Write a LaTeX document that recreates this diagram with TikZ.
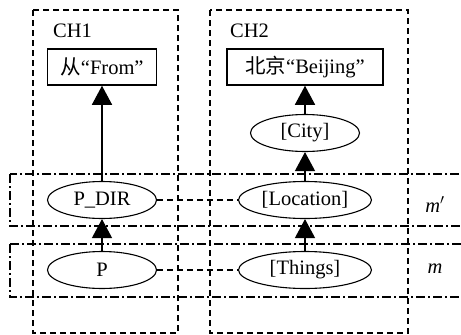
\documentclass[tikz,border=0pt]{standalone}
\usepackage{fontspec}
\setmainfont{Liberation Serif}
\newfontfamily\cjk{Noto Sans CJK SC}
\usetikzlibrary{shapes.geometric,arrows.meta}
\begin{document}
\begin{tikzpicture}[x=1pt,y=-1pt,
  every node/.style={font=\fontsize{20.5}{24}\selectfont},
  chbox/.style={draw, dash pattern=on 6pt off 4pt, line width=1.1pt},
  layer/.style={draw, dash pattern=on 9pt off 3pt on 2pt off 3pt, line width=1.1pt},
  word/.style={draw, fill=white, line width=1.5pt, minimum height=36pt, inner sep=0pt},
  sem/.style={ellipse, draw, fill=white, line width=1.1pt, minimum height=37pt, inner sep=0pt},
  up/.style={-{Triangle[length=19pt,width=20pt]}, line width=1.4pt},
  link/.style={dash pattern=on 6pt off 4pt, line width=1.1pt}]
\clip (0,0) rectangle (461,335);
% channel frames
\draw[chbox] (33,10) rectangle (178,333);
\draw[chbox] (210,10) rectangle (408,333);
% layer bands
\draw[layer] (10,174) rectangle (480,226);
\draw[layer] (10,244) rectangle (480,297);
% labels
\node[anchor=base west, inner sep=0] (ch1) at (53,37) {CH1};
\node[anchor=base west, inner sep=0] (ch2) at (230,37) {CH2};
\node[anchor=base, inner sep=0] (mp) at (435,212) {\textit{m}$'$};
\node[anchor=base, inner sep=0] (m) at (435,273) {\textit{m}};
% word boxes
\node[word, minimum width=109pt] (from) at (102,67) {{\cjk 从}“From”};
\node[word, minimum width=156pt] (bj) at (305,67) {{\cjk 北京}“Beijing”};
% semantic nodes
\node[sem, minimum width=109pt] (pdir) at (102,200) {P\_DIR};
\node[sem, minimum width=109pt] (p) at (102,270) {P};
\node[sem, minimum width=109pt] (city) at (305,133) {[City]};
\node[sem, minimum width=133pt] (loc) at (305,200) {[Location]};
\node[sem, minimum width=133pt] (things) at (305,270) {[Things]};
% arrows
\draw[up] (pdir) -- (from);
\draw[up] (p) -- (pdir);
\draw[up] (city) -- (bj);
\draw[up] (loc) -- (city);
\draw[up] (things) -- (loc);
% cross-channel links
\draw[link] (pdir.east) -- (loc.west);
\draw[link] (p.east) -- (things.west);
\end{tikzpicture}
\end{document}
